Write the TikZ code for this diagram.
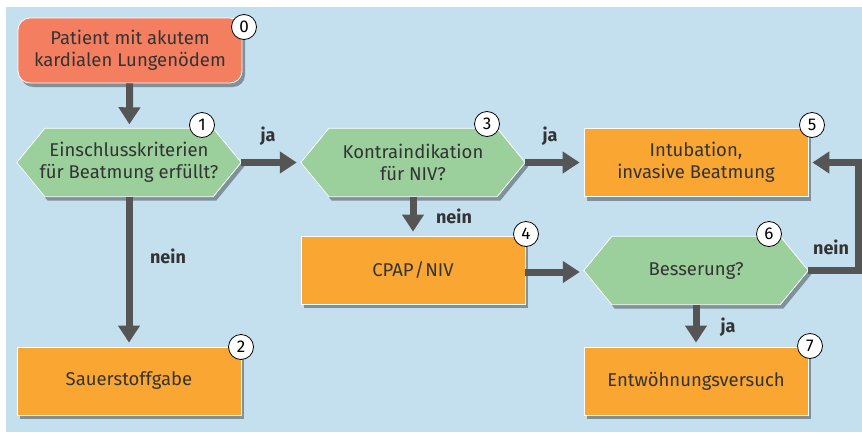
\documentclass[tikz,border=0pt]{standalone}
\usepackage{fontspec}
\setmainfont{Fira Sans}
\usetikzlibrary{arrows.meta,shadows,backgrounds}
\definecolor{bgblue}{HTML}{C4DFEE}
\definecolor{salmon}{HTML}{F47E60}
\definecolor{hexgreen}{HTML}{9BD09C}
\definecolor{orng}{HTML}{F9A633}
\definecolor{arrowc}{HTML}{555555}
\definecolor{txt}{HTML}{333333}
\tikzset{
  myshadow/.style={drop shadow={shadow xshift=3pt, shadow yshift=-4pt, fill=black, opacity=0.35}},
  box/.style={rectangle, minimum width=224pt, minimum height=68pt, inner sep=0pt, align=center,
    font=\fontsize{18.5}{22}\selectfont, text=txt},
  orangebox/.style={box, fill=orng, draw=white, line width=0.8pt, myshadow},
  startbox/.style={box, minimum height=65pt, rounded corners=12pt, fill=salmon, draw=white, line width=0.8pt, myshadow},
  hexbox/.style={box},
  hexfill/.style={fill=hexgreen, draw=white, line width=0.8pt, myshadow},
  numc/.style={circle, draw=black, fill=white, line width=0.8pt, minimum size=25pt, inner sep=0pt,
    font=\fontsize{17}{17}\selectfont, text=black},
  arr/.style={draw=arrowc, line width=7pt, -{Triangle[width=21pt,length=17pt]}, shorten >=4pt},
  lbl/.style={font=\fontsize{18}{18}\selectfont\bfseries, text=txt, inner sep=0pt}
}
\newcommand\hexpath[1]{\path[hexfill] (#1.west) -- ([xshift=28pt]#1.north west) -- ([xshift=-28pt]#1.north east) -- (#1.east) -- ([xshift=-28pt]#1.south east) -- ([xshift=28pt]#1.south west) -- cycle;}
\begin{document}
\begin{tikzpicture}[x=1pt,y=-1pt]
\useasboundingbox (0,0) rectangle (862,434);
% nodes
\node[startbox] (n0) at (130,50.5) {Patient mit akutem\\kardialen Lungenödem};
\node[hexbox] (n1) at (129,162.5) {Einschlusskriterien\\für Beatmung erfüllt?};
\node[orangebox] (n2) at (129,381) {Sauerstoffgabe};
\node[hexbox] (n3) at (413,162.5) {Kontraindikation\\für NIV?};
\node[orangebox] (n4) at (413,270) {CPAP\kern1pt/\kern1pt NIV};
\node[orangebox] (n5) at (696,162.5) {Intubation,\\invasive Beatmung};
\node[hexbox] (n6) at (696,270.5) {Besserung?};
\node[orangebox] (n7) at (696,381) {Entwöhnungsversuch};
\begin{scope}[on background layer]
  \fill[white] (0,0) rectangle (862,434);
  \fill[bgblue] (6,7) rectangle (862,432);
  \hexpath{n1}
  \hexpath{n3}
  \hexpath{n6}
\end{scope}
% connectors
\draw[arr] (n0) -- (n1);
\draw[arr] (n1) -- (n3);
\draw[arr] (n3) -- (n5);
\draw[arr] (n3) -- (n4);
\draw[arr] (n1) -- (n2);
\draw[arr] (n4.east |- 0,272) -- (n6.west |- 0,272);
\draw[arr] (n6) -- (n7);
\coordinate (loop) at (858,217);
\draw[arr, line join=miter] (n6.east) -| (loop) |- (n5.east);
% labels
\node[lbl] (l1) at (268,136) {ja};
\node[lbl] (l2) at (550,136) {ja};
\node[lbl] (l3) at (168,256) {nein};
\node[lbl] (l4) at (454,216) {nein};
\node[lbl] (l5) at (831,247) {nein};
\node[lbl] (l6) at (728,327) {ja};
% numbers
\node[numc] (c0) at (244,27) {0};
\node[numc] (c1) at (202,125) {1};
\node[numc] (c2) at (241,347) {2};
\node[numc] (c3) at (487,124) {3};
\node[numc] (c4) at (526,234) {4};
\node[numc] (c5) at (812,125) {5};
\node[numc] (c6) at (769,234) {6};
\node[numc] (c7) at (810,346) {7};
\end{tikzpicture}
\end{document}
